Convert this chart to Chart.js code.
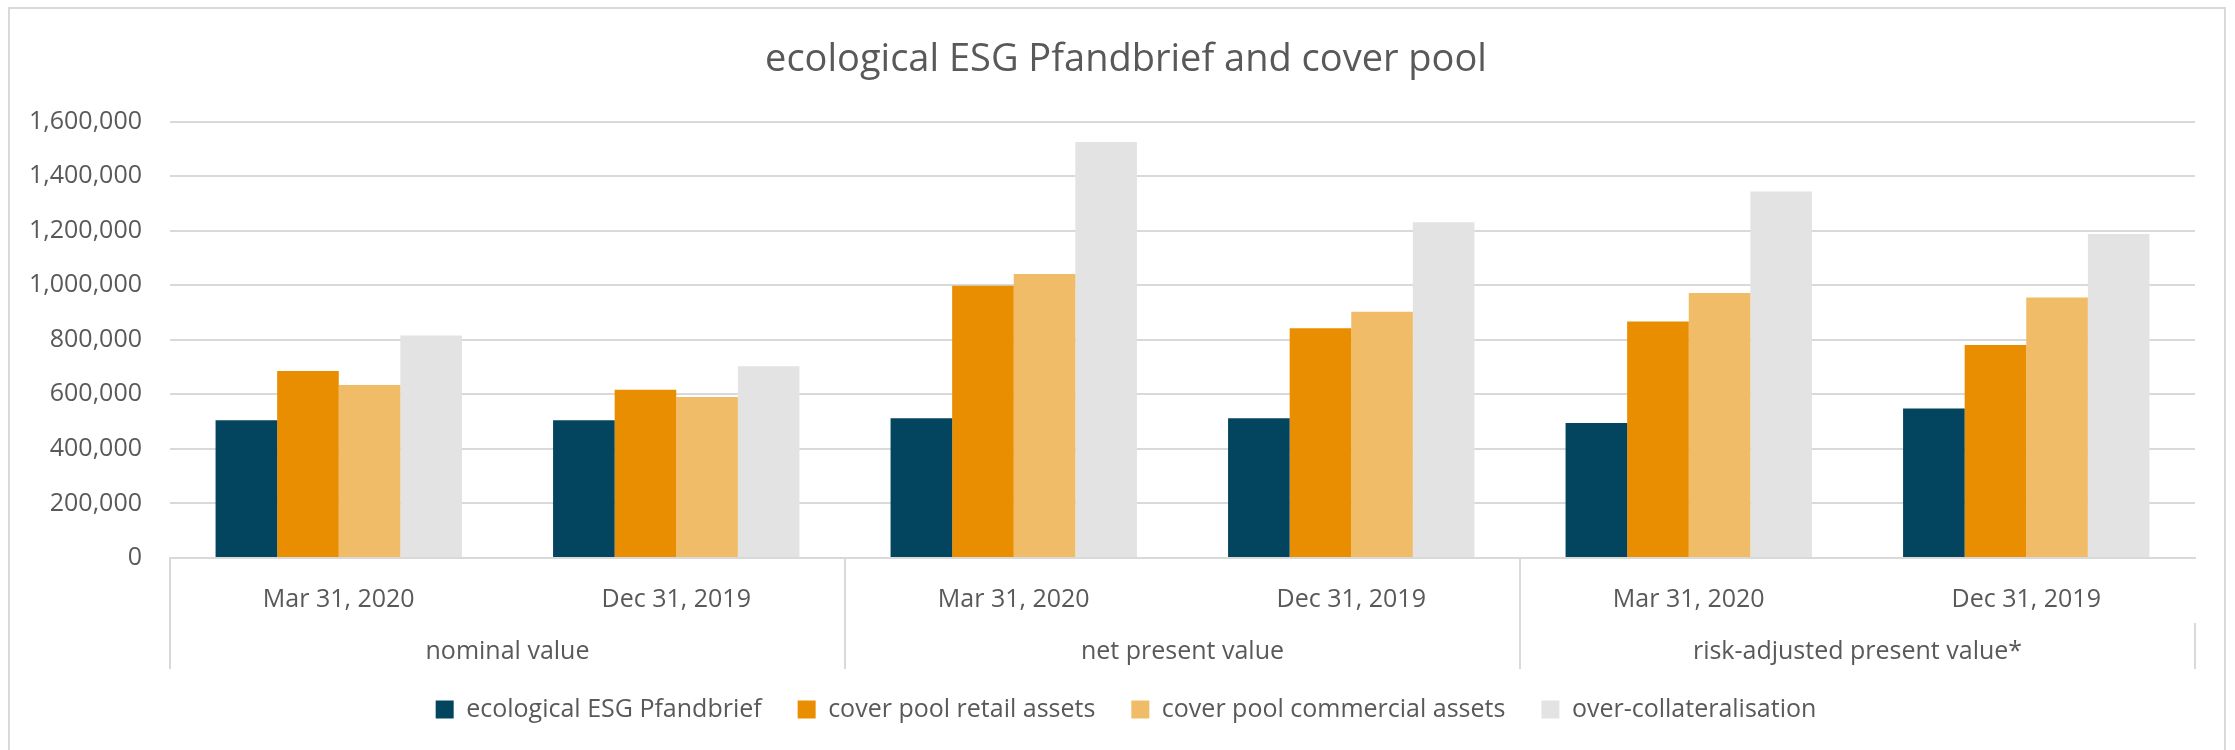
<!DOCTYPE html>
<html>
<head>
<meta charset="utf-8">
<script src="https://cdn.jsdelivr.net/npm/chart.js@4.4.1/dist/chart.umd.min.js"></script>
<style>
  html, body { margin: 0; padding: 0; background: #fff; }
  #wrap { position: relative; width: 2235px; height: 750px; overflow: hidden; }
  #frame { position: absolute; left: 8px; top: 7px; width: 2218px; height: 800px; border: 2px solid #d9d9d9; box-sizing: border-box; }
  canvas { position: absolute; left: 0; top: 0; }
</style>
</head>
<body>
<div id="wrap">
  <div id="frame"></div>
  <canvas id="chart" width="2235" height="750"></canvas>
</div>
<script>
var dates = ["Mar 31, 2020", "Dec 31, 2019", "Mar 31, 2020", "Dec 31, 2019", "Mar 31, 2020", "Dec 31, 2019"];
var groups = ["nominal value", "net present value", "risk-adjusted present value*"];

var esgPfandbrief = [505000, 505000, 512000, 512000, 495000, 548000];
var retailAssets = [686000, 617000, 998000, 842000, 867000, 781000];
var commercialAssets = [634000, 590000, 1041000, 903000, 972000, 955000];
var overCollateral = [816000, 703000, 1525000, 1231000, 1344000, 1188000];

var yTicks = [0, 200000, 400000, 600000, 800000, 1000000, 1200000, 1400000, 1600000];

var textColor = '#595959';
var lineColor = '#d9d9d9';

Chart.defaults.font.family = "'Open Sans', sans-serif";
Chart.defaults.color = textColor;

// labels sit partly outside their (fixed size) axis boxes, so skip the label clip
function noLabelClip(scale) { scale._computeLabelArea = function() {}; }

var ctx = document.getElementById('chart');
var chart = new Chart(ctx, {
    type: 'bar',
    data: {
        labels: dates,
        datasets: [
            { label: 'ecological ESG Pfandbrief', data: esgPfandbrief, backgroundColor: '#03455f' },
            { label: 'cover pool retail assets', data: retailAssets, backgroundColor: '#e88e00' },
            { label: 'cover pool commercial assets', data: commercialAssets, backgroundColor: '#f1bc67' },
            { label: 'over-collateralisation', data: overCollateral, backgroundColor: '#e3e3e3' }
        ]
    },
    options: {
        responsive: false,
        animation: false,
        // left padding keeps the title and legend centred like the original
        layout: { padding: { top: 0, right: 40, bottom: 18, left: 57 } },
        datasets: {
            bar: { categoryPercentage: 0.73, barPercentage: 1.0, borderWidth: 0 }
        },
        scales: {
            x: {
                position: 'bottom',
                offset: true,
                grid: {
                    offset: true,
                    drawOnChartArea: false,
                    drawTicks: true,
                    tickLength: 65,
                    lineWidth: 2,
                    color: function(c) { return c.index % 2 === 0 ? lineColor : 'rgba(0,0,0,0)'; }
                },
                border: { display: true, color: lineColor, width: 2 },
                ticks: { font: { size: 25 }, color: textColor, padding: -38, maxRotation: 0 },
                afterFit: function(scale) { scale.height = 65; noLabelClip(scale); }
            },
            x2: {
                type: 'category',
                position: 'bottom',
                labels: groups,
                offset: true,
                grid: {
                    offset: true,
                    drawOnChartArea: false,
                    drawTicks: true,
                    tickLength: 46,
                    lineWidth: 2,
                    color: lineColor
                },
                border: { display: false },
                ticks: { font: { size: 25 }, color: textColor, padding: -32, maxRotation: 0 },
                afterFit: function(scale) { scale.height = 38; noLabelClip(scale); }
            },
            y: {
                min: 0,
                max: 1600000,
                afterBuildTicks: function(scale) {
                    scale.ticks = yTicks.map(function(v) { return { value: v }; });
                },
                grid: { color: lineColor, lineWidth: 2, drawTicks: false },
                border: { display: false },
                ticks: {
                    font: { size: 25 },
                    color: textColor,
                    padding: 28,
                    callback: function(v) { return Number(v).toLocaleString('en-US'); }
                },
                afterFit: function(scale) { scale.width = 113; noLabelClip(scale); }
            }
        },
        plugins: {
            title: {
                display: true,
                text: 'ecological ESG Pfandbrief and cover pool',
                color: textColor,
                font: { size: 38, weight: 'normal' },
                padding: { top: 37, bottom: 39 }
            },
            legend: {
                position: 'bottom',
                labels: {
                    boxWidth: 18,
                    boxHeight: 18,
                    padding: 36,
                    color: textColor,
                    font: { size: 25 }
                }
            },
            tooltip: { enabled: false }
        }
    }
});
</script>
</body>
</html>
